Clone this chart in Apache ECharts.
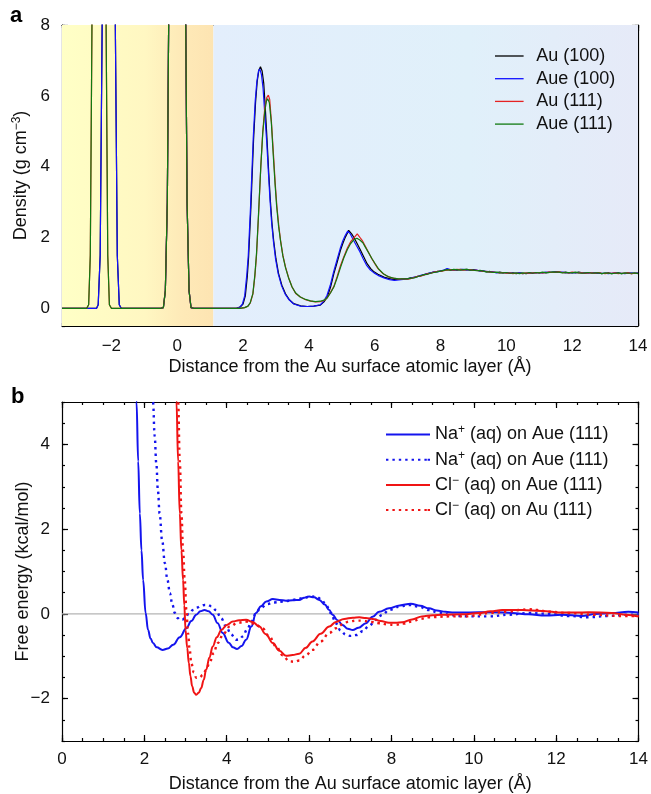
<!DOCTYPE html>
<html><head><meta charset="utf-8">
<script src="https://cdn.jsdelivr.net/npm/echarts/dist/echarts.min.js"></script>
<style>html,body{margin:0;padding:0;background:#fff}#c{width:651px;height:794px}</style>
</head><body><div id="c"></div>
<script>
// ---------- Panel a: density profiles ----------
const auPeaks100 = [[-3.5,0],[-2.45,0],[-2.4,0.1],[-2.34,1.5],[-2.28,8],[-2.2,30],[-2.08,60],[-1.96,30],[-1.88,8],[-1.82,1.5],[-1.76,0.1],[-1.7,0],[-0.5,0],[-0.42,0.02],[-0.36,0.5],[-0.3,3],[-0.26,8],[-0.2,25],[0,60],[0.2,25],[0.26,8],[0.3,3],[0.36,0.5],[0.42,0.02],[0.5,0]];
const auPeaks111 = [[-3.5,0],[-2.75,0],[-2.69,0.1],[-2.64,1.5],[-2.59,8],[-2.5,30],[-2.37,60],[-2.24,30],[-2.16,8],[-2.11,1.5],[-2.06,0.1],[-2.0,0],[-0.5,0],[-0.42,0.02],[-0.36,0.5],[-0.3,3],[-0.26,8],[-0.2,25],[0,60],[0.2,25],[0.26,8],[0.3,3],[0.36,0.5],[0.42,0.02],[0.5,0]];
const headAu100 = [[1.8,0],[1.92,0.04],[2.0,0.12],[2.07,0.35],[2.13,0.9],[2.17,1.45],[2.24,2.86],[2.32,4.75],[2.38,5.8],[2.43,6.4],[2.48,6.72],[2.53,6.82],[2.58,6.7],[2.63,6.35],[2.68,5.6],[2.73,4.75],[2.78,3.85],[2.83,3.05],[2.88,2.4],[2.93,1.92],[3.0,1.4],[3.08,0.98],[3.18,0.65],[3.29,0.41],[3.4,0.25],[3.54,0.13],[3.75,0.07],[3.95,0.05],[4.15,0.06],[4.35,0.09],[4.46,0.18],[4.56,0.32],[4.66,0.6],[4.76,0.98],[4.86,1.3],[4.96,1.64],[5.04,1.85],[5.11,2.01],[5.21,2.2],[5.3,2.1],[5.37,2.0],[5.47,1.82],[5.57,1.64],[5.67,1.45],[5.77,1.26],[5.88,1.12],[5.98,1.03],[6.1,0.96],[6.28,0.88],[6.45,0.84],[6.59,0.81],[6.8,0.82]];
const headAue100 = [[1.8,0],[1.9,0.03],[1.98,0.12],[2.05,0.35],[2.11,0.9],[2.16,1.5],[2.23,2.9],[2.31,4.8],[2.37,5.85],[2.42,6.4],[2.47,6.7],[2.51,6.76],[2.56,6.6],[2.61,6.2],[2.66,5.5],[2.72,4.7],[2.77,3.85],[2.82,3.05],[2.87,2.4],[2.92,1.92],[2.99,1.38],[3.07,0.97],[3.17,0.64],[3.28,0.4],[3.4,0.24],[3.54,0.12],[3.75,0.06],[3.95,0.05],[4.15,0.06],[4.35,0.1],[4.45,0.2],[4.55,0.36],[4.65,0.65],[4.75,1.02],[4.85,1.35],[4.95,1.68],[5.03,1.9],[5.1,2.05],[5.18,2.18],[5.26,2.1],[5.34,1.95],[5.44,1.78],[5.55,1.6],[5.65,1.4],[5.75,1.22],[5.87,1.08],[5.98,1.0],[6.1,0.93],[6.28,0.86],[6.45,0.81],[6.6,0.79],[6.8,0.81]];
const headAu111 = [[1.9,0],[2.05,0.02],[2.15,0.06],[2.22,0.15],[2.3,0.4],[2.36,0.9],[2.41,1.5],[2.47,2.6],[2.54,4.0],[2.6,5.0],[2.66,5.65],[2.72,5.95],[2.77,6.02],[2.81,5.9],[2.86,5.3],[2.93,4.27],[2.98,3.5],[3.03,2.86],[3.09,2.3],[3.14,1.92],[3.21,1.5],[3.29,1.17],[3.39,0.85],[3.49,0.6],[3.6,0.42],[3.74,0.32],[3.9,0.24],[4.05,0.2],[4.2,0.18],[4.35,0.19],[4.46,0.22],[4.56,0.3],[4.66,0.45],[4.76,0.62],[4.86,0.9],[4.96,1.2],[5.06,1.45],[5.17,1.7],[5.27,1.88],[5.37,1.99],[5.47,2.1],[5.55,2.0],[5.62,1.92],[5.7,1.78],[5.8,1.6],[5.9,1.42],[6.0,1.27],[6.1,1.12],[6.25,0.98],[6.4,0.9],[6.55,0.85],[6.7,0.83],[6.85,0.83]];
const headAue111 = [[1.9,0],[2.05,0.02],[2.15,0.06],[2.22,0.16],[2.3,0.42],[2.36,0.95],[2.41,1.55],[2.47,2.65],[2.54,4.0],[2.6,4.95],[2.66,5.55],[2.71,5.85],[2.75,5.92],[2.8,5.8],[2.86,5.25],[2.92,4.3],[2.97,3.55],[3.02,2.9],[3.08,2.32],[3.14,1.9],[3.21,1.48],[3.29,1.15],[3.39,0.84],[3.49,0.6],[3.6,0.43],[3.74,0.32],[3.9,0.25],[4.05,0.21],[4.2,0.19],[4.35,0.2],[4.46,0.23],[4.56,0.3],[4.66,0.44],[4.76,0.6],[4.86,0.86],[4.96,1.15],[5.06,1.42],[5.17,1.66],[5.27,1.83],[5.37,1.94],[5.46,1.98],[5.55,1.93],[5.64,1.85],[5.72,1.72],[5.82,1.56],[5.92,1.4],[6.02,1.25],[6.12,1.11],[6.27,0.97],[6.42,0.89],[6.57,0.85],[6.72,0.83],[6.87,0.83]];
const tailX = [7.0,7.1,7.2,7.3,7.4,7.5,7.6,7.7,7.8,7.9,8.0,8.1,8.2,8.3,8.4,8.5,8.6,8.7,8.8,8.9,9.0,9.1,9.2,9.3,9.4,9.5,9.6,9.7,9.8,9.9,10.0,10.1,10.2,10.3,10.4,10.5,10.6,10.7,10.8,10.9,11.0,11.1,11.2,11.3,11.4,11.5,11.6,11.7,11.8,11.9,12.0,12.1,12.2,12.3,12.4,12.5,12.6,12.7,12.8,12.9,13.0,13.1,13.2,13.3,13.4,13.5,13.6,13.7,13.8,13.9,14.0];
const tailAu100 = [0.84,0.86,0.87,0.90,0.92,0.95,0.98,1.00,1.02,1.04,1.05,1.07,1.10,1.08,1.09,1.08,1.10,1.09,1.10,1.08,1.09,1.07,1.06,1.05,1.03,1.04,1.02,1.01,1.02,1.00,1.01,0.99,1.00,0.98,1.00,0.99,0.98,1.00,0.99,1.01,1.00,1.01,1.00,1.02,1.01,1.03,1.02,1.01,1.02,1.00,1.01,1.00,1.02,1.00,0.99,1.01,1.00,0.99,1.00,0.98,0.99,1.00,0.98,0.99,1.00,0.98,0.99,1.00,0.98,0.99,0.99];
const tailAue100 = [0.83,0.85,0.88,0.89,0.93,0.95,0.97,1.00,1.03,1.03,1.06,1.08,1.12,1.09,1.08,1.09,1.09,1.10,1.08,1.09,1.08,1.08,1.05,1.06,1.04,1.03,1.03,1.00,1.01,1.01,1.00,1.00,0.99,0.99,1.01,0.98,0.99,0.99,1.00,1.00,1.01,1.00,1.02,1.01,1.02,1.03,1.01,1.02,1.00,1.01,1.00,1.01,1.01,1.00,1.00,0.99,1.01,1.00,0.99,0.99,0.99,0.98,0.99,1.00,0.99,0.99,0.98,0.99,1.00,0.99,1.00];
const tailAu111 = [0.82,0.84,0.87,0.90,0.91,0.94,0.97,0.99,1.02,1.04,1.04,1.06,1.08,1.09,1.08,1.10,1.09,1.08,1.09,1.09,1.07,1.07,1.06,1.04,1.04,1.02,1.02,1.01,1.00,1.01,0.99,1.00,0.98,0.99,0.99,0.98,1.00,0.99,1.00,1.00,1.01,1.00,1.01,1.02,1.01,1.02,1.03,1.01,1.01,1.00,1.02,1.01,1.00,1.00,0.99,1.00,1.00,0.99,1.01,0.99,0.98,0.99,0.99,1.00,0.98,0.99,0.99,1.00,0.98,0.99,0.99];
const tailAue111 = [0.83,0.85,0.86,0.89,0.92,0.95,0.96,0.99,1.01,1.03,1.05,1.07,1.09,1.08,1.10,1.09,1.08,1.09,1.10,1.08,1.08,1.06,1.07,1.05,1.03,1.03,1.01,1.02,1.00,1.00,1.01,0.99,0.99,1.00,0.98,1.00,0.99,1.01,0.99,1.01,1.00,1.02,1.01,1.01,1.03,1.02,1.02,1.00,1.01,1.01,1.00,1.02,1.00,0.99,1.00,1.01,0.99,1.00,1.00,0.98,1.00,0.99,0.98,0.99,1.00,0.98,1.00,0.99,0.99,1.00,0.98];
const seriesNamesA = ['Au (100)','Aue (100)','Au (111)','Aue (111)'];
const colorsA = ['#000000','#1010ff','#e52222','#117a11'];

// ---------- Panel b: free energy profiles ----------
const naAue = [[1.77,6.5],[1.81,5],[1.85,3.6],[1.89,2.37],[1.93,1.5],[1.97,0.8],[2.03,0.02],[2.09,-0.38],[2.15,-0.58],[2.21,-0.69],[2.3,-0.79],[2.44,-0.85],[2.57,-0.82],[2.7,-0.73],[2.86,-0.55],[3.02,-0.34],[3.14,-0.17],[3.26,-0.02],[3.36,0.06],[3.46,0.09],[3.56,0.06],[3.66,-0.02],[3.78,-0.22],[3.9,-0.45],[4.05,-0.68],[4.15,-0.79],[4.25,-0.83],[4.36,-0.76],[4.47,-0.61],[4.6,-0.3],[4.71,0.02],[4.83,0.18],[4.96,0.29],[5.12,0.35],[5.28,0.33],[5.44,0.31],[5.6,0.32],[5.76,0.33],[5.88,0.38],[6.0,0.41],[6.12,0.39],[6.25,0.33],[6.38,0.22],[6.49,0.09],[6.57,-0.02],[6.69,-0.15],[6.81,-0.26],[6.94,-0.35],[7.06,-0.38],[7.2,-0.33],[7.38,-0.22],[7.54,-0.07],[7.7,0.05],[7.94,0.13],[8.2,0.2],[8.47,0.24],[8.7,0.19],[8.91,0.13],[9.1,0.08],[9.31,0.05],[9.52,0.03],[9.72,0.03],[10.12,0.04],[10.53,0.04],[10.93,0.02],[11.33,-0.01],[11.74,-0.04],[12.14,-0.02],[12.62,-0.05],[12.95,0],[13.35,0.02],[13.75,0.05],[14.0,0.03]];
const naAu = [[2.17,6.5],[2.21,5],[2.25,4.2],[2.29,3.55],[2.33,2.9],[2.37,2.37],[2.43,1.75],[2.5,1.19],[2.56,0.8],[2.62,0.49],[2.68,0.22],[2.74,0.02],[2.8,-0.09],[2.86,-0.14],[2.92,-0.14],[2.98,-0.1],[3.08,0.0],[3.18,0.09],[3.28,0.15],[3.38,0.19],[3.46,0.21],[3.54,0.21],[3.62,0.18],[3.74,0.09],[3.86,-0.1],[3.99,-0.3],[4.1,-0.48],[4.23,-0.61],[4.31,-0.6],[4.39,-0.53],[4.5,-0.36],[4.6,-0.18],[4.7,0.0],[4.82,0.14],[4.98,0.23],[5.16,0.27],[5.36,0.29],[5.52,0.31],[5.68,0.34],[5.84,0.37],[6.0,0.4],[6.17,0.41],[6.3,0.34],[6.41,0.21],[6.53,0.02],[6.65,-0.22],[6.77,-0.4],[6.89,-0.49],[7.01,-0.52],[7.15,-0.5],[7.3,-0.41],[7.46,-0.28],[7.62,-0.14],[7.78,-0.02],[7.94,0.09],[8.18,0.17],[8.43,0.21],[8.67,0.17],[8.91,0.09],[9.15,0.03],[9.4,-0.02],[9.64,-0.05],[9.88,-0.06],[10.36,-0.06],[10.85,-0.02],[11.33,0.02],[11.81,0],[12.3,-0.05],[12.78,-0.08],[13.27,-0.05],[13.75,-0.02],[14.0,-0.01]];
const clAue = [[2.75,6.5],[2.78,5],[2.82,3.6],[2.86,2.37],[2.9,1.5],[2.94,0.8],[2.97,0.2],[3.0,-0.38],[3.04,-0.8],[3.08,-1.16],[3.12,-1.47],[3.16,-1.71],[3.21,-1.86],[3.26,-1.91],[3.32,-1.86],[3.38,-1.75],[3.44,-1.56],[3.5,-1.32],[3.58,-1.03],[3.66,-0.77],[3.76,-0.55],[3.87,-0.38],[4.0,-0.26],[4.15,-0.18],[4.3,-0.15],[4.47,-0.14],[4.63,-0.19],[4.79,-0.3],[4.95,-0.48],[5.12,-0.69],[5.28,-0.87],[5.44,-0.99],[5.6,-0.97],[5.76,-0.94],[5.92,-0.8],[6.08,-0.65],[6.28,-0.47],[6.49,-0.3],[6.65,-0.19],[6.85,-0.12],[7.06,-0.09],[7.22,-0.08],[7.38,-0.1],[7.54,-0.12],[7.74,-0.17],[7.94,-0.21],[8.1,-0.21],[8.26,-0.2],[8.5,-0.13],[8.74,-0.06],[9.0,-0.03],[9.23,-0.02],[9.72,-0.01],[10.12,0.02],[10.4,0.06],[10.69,0.09],[11.17,0.09],[11.65,0.07],[12.14,0.03],[12.5,0.03],[12.78,0.04],[13.35,0.02],[13.7,-0.02],[14.0,-0.06]];
const clAu = [[2.79,6.5],[2.82,5],[2.86,3.6],[2.9,2.37],[2.94,1.5],[2.98,0.8],[3.02,0.1],[3.06,-0.45],[3.1,-0.85],[3.14,-1.16],[3.2,-1.38],[3.26,-1.51],[3.34,-1.5],[3.42,-1.44],[3.5,-1.32],[3.58,-1.16],[3.68,-0.93],[3.78,-0.69],[3.92,-0.47],[4.07,-0.3],[4.27,-0.21],[4.47,-0.18],[4.67,-0.23],[4.87,-0.34],[5.03,-0.53],[5.2,-0.77],[5.36,-0.98],[5.52,-1.12],[5.64,-1.13],[5.76,-1.1],[5.92,-0.98],[6.08,-0.85],[6.28,-0.65],[6.49,-0.45],[6.65,-0.34],[6.81,-0.25],[6.97,-0.18],[7.14,-0.16],[7.3,-0.16],[7.5,-0.19],[7.7,-0.22],[7.9,-0.25],[8.1,-0.26],[8.3,-0.23],[8.5,-0.18],[8.7,-0.12],[8.91,-0.08],[9.4,-0.06],[9.88,-0.06],[10.1,-0.02],[10.36,0.02],[10.85,0.05],[11.1,0.09],[11.33,0.11],[11.55,0.09],[11.81,0.05],[12.3,0.02],[12.95,-0.02],[13.51,-0.05],[14.0,-0.05]];
const zeroLine = [[0,0],[14,0]];
const seriesKeysB = ['naAue','naAu','clAue','clAu'];
const legendTextB = {
  naAue: 'Na{sup|+} (aq) on Aue (111)',
  naAu: 'Na{sup|+} (aq) on Aue (111)',
  clAue: 'Cl{sup|\u2212} (aq) on Aue (111)',
  clAu: 'Cl{sup|\u2212} (aq) on Au (111)'
};

// ---------- tick labels ----------
const xTicksA = [-2,0,2,4,6,8,10,12,14];
const yTicksA = [0,2,4,6,8];
const xTicksB = [0,2,4,6,8,10,12,14];
const yTicksB = [-2,0,2,4];

const FONT = "'Liberation Sans', Arial, Helvetica, sans-serif";
const fmt = v => (v < 0 ? '\u2212' + Math.abs(v) : String(v));
const tickLine = {color:'#000', width:1.2};

function axes(gridIndex, pos, min, max, majors, labels, margin, name, nameGap, rich) {
  const major = {
    type:'value', gridIndex, position: pos, min, max,
    axisLine:{show:true, onZero:false, lineStyle:tickLine},
    axisTick:{show:true, inside:true, length:6, customValues: majors, lineStyle:tickLine},
    axisLabel:{show: labels, customValues: majors, formatter: fmt, fontSize:17, color:'#111', margin: margin, fontFamily: FONT},
    splitLine:{show:false}
  };
  if (name) {
    major.name = name; major.nameLocation = 'middle'; major.nameGap = nameGap;
    major.nameMoveOverlap = false;
    major.nameTextStyle = {fontSize:18, color:'#111', fontFamily: FONT, rich: rich || {}};
  }
  const minor = {
    type:'value', gridIndex, position: pos, min, max, interval:0.5,
    axisLine:{show:false, onZero:false},
    axisTick:{show:true, inside:true, length:3, lineStyle:tickLine},
    axisLabel:{show:false}, splitLine:{show:false}
  };
  return [major, minor];
}
const supRich = {sup:{fontSize:12, fontFamily: FONT, color:'#111', padding:[0,0,9,0]}};

const xAxis = [
  ...axes(0,'bottom',-3.5,14,xTicksA,true,12,'Distance from the Au surface atomic layer (\u00c5)',32),
  ...axes(0,'top',-3.5,14,xTicksA,false,8),
  ...axes(1,'bottom',0,14,xTicksB,true,10,'Distance from the Au surface atomic layer (\u00c5)',34),
  ...axes(1,'top',0,14,xTicksB,false,8)
];
const yAxis = [
  ...axes(0,'left',-0.5,8,yTicksA,true,12,'Density (g cm{sup|\u22123})',30,supRich),
  ...axes(0,'right',-0.5,8,yTicksA,false,8),
  ...axes(1,'left',-3,5,yTicksB,true,12,'Free energy (kcal/mol)',30),
  ...axes(1,'right',-3,5,yTicksB,false,8)
];

const pairs = (xs, ys) => ys.map((y,i)=>[xs[i],y]).filter(p=>p[0]!==undefined);
const dataA = [
  auPeaks100.concat(headAu100, pairs(tailX, tailAu100)),
  auPeaks100.concat(headAue100, pairs(tailX, tailAue100)),
  auPeaks111.concat(headAu111, pairs(tailX, tailAu111)),
  auPeaks111.concat(headAue111, pairs(tailX, tailAue111))
];

const grad = (stops) => ({type:'linear', x:0, y:0, x2:1, y2:0, colorStops: stops});
const series = [];
dataA.forEach((d,i)=>{
  const s = {
    name: seriesNamesA[i], type:'line', xAxisIndex:0, yAxisIndex:0, data:d,
    symbol:'none', clip:true, lineStyle:{color:colorsA[i], width:1.2}, itemStyle:{color:colorsA[i]}
  };
  if (i === 0) {
    s.markArea = {silent:true, data:[
      [{xAxis:-3.5, yAxis:-0.5, itemStyle:{opacity:1, color: grad([{offset:0,color:'#ffffc6'},{offset:0.55,color:'#fff7c2'},{offset:0.78,color:'#feeab8'},{offset:1,color:'#fde4b2'}])}},{xAxis:1.1, yAxis:8}],
      [{xAxis:1.1, yAxis:-0.5, itemStyle:{opacity:1, color: grad([{offset:0,color:'#e3eefc'},{offset:0.6,color:'#e0f0fa'},{offset:1,color:'#e6eaf8'}])}},{xAxis:14, yAxis:8}]
    ]};
  }
  series.push(s);
});
series.push({name:'zero', type:'line', xAxisIndex:4, yAxisIndex:4, data:zeroLine, symbol:'none', silent:true, lineStyle:{color:'#b4b4b4', width:1.2}, z:1});
const dataB = {naAue, naAu, clAue, clAu};
const colorsB = {naAue:'#1414ee', naAu:'#1414ee', clAue:'#f01414', clAu:'#f01414'};
seriesKeysB.forEach(k=>{
  const dotted = (k === 'naAu' || k === 'clAu');
  series.push({
    name:k, type:'line', xAxisIndex:4, yAxisIndex:4, data:dataB[k], symbol:'none', clip:true,
    smooth:0.4, smoothMonotone:'x',
    lineStyle:{color:colorsB[k], width: dotted ? 2.4 : 2, type: dotted ? [2.4,4] : 'solid', cap:'butt'},
    itemStyle:{color:colorsB[k]}
  });
});

const solidIcon = 'path://M0,0H44V2H0Z';
const dottedIcon = 'path://M0,0H2.4V2H0Z M6.4,0H8.8V2H6.4Z M12.8,0H15.2V2H12.8Z M19.2,0H21.6V2H19.2Z M25.6,0H28V2H25.6Z M32,0H34.4V2H32Z M38.4,0H40.8V2H38.4Z M41.6,0H44V2H41.6Z';

const option = {
  animation:false,
  backgroundColor:'#fff',
  textStyle:{fontFamily: FONT},
  grid:[
    {left:62, top:25, width:576, height:301, containLabel:false},
    {left:62, top:402, width:578, height:339, containLabel:false}
  ],
  xAxis, yAxis, series,
  legend:[
    {data: seriesNamesA.map(n=>({name:n, icon:solidIcon})), orient:'vertical', left:490, top:41, itemWidth:44, itemHeight:1.3, itemGap:2.7,
     textStyle:{fontSize:18, color:'#111', fontFamily:FONT, lineHeight:20}},
    {data: seriesKeysB.map(k=>({name:k, icon:(k==='naAu'||k==='clAu') ? dottedIcon : solidIcon})), orient:'vertical', left:381, top:419, itemWidth:44, itemHeight:2.2, itemGap:4.7,
     formatter: n => legendTextB[n],
     textStyle:{fontSize:18, color:'#111', fontFamily:FONT, lineHeight:20, rich:{sup:{fontSize:12, fontFamily:FONT, color:'#111', padding:[0,0,9,0]}}}}
  ],
  graphic:[
    {type:'text', left:10, top:5, style:{text:'a', font:'bold 22px '+FONT, fill:'#000'}},
    {type:'text', left:11, top:386, style:{text:'b', font:'bold 22px '+FONT, fill:'#000'}},
    {type:'text', left:127, top:50, style:{text:'Au', font:'18px '+FONT, fill:'#f5b41c'}},
    {type:'text', left:320, top:50, style:{text:'H{sub|2}O', font:'18px '+FONT, fill:'#4a88d6', rich:{sub:{fontSize:12, fill:'#4a88d6', fontFamily:FONT, padding:[10,0,0,0]}}}}
  ]
};
echarts.init(document.getElementById('c'), null, {renderer:'canvas'}).setOption(option);
</script></body></html>
